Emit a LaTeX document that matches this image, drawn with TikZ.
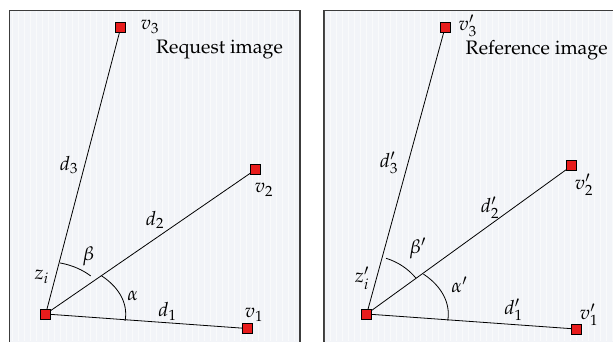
\documentclass[tikz,border=0pt]{standalone}
\usepackage[T1]{fontenc}
\usepackage{mathpazo}
\definecolor{paper}{RGB}{242,244,248}
\definecolor{vred}{RGB}{232,28,28}
\definecolor{framec}{RGB}{60,60,60}
\tikzset{
  vert/.style={draw=black, line width=0.7pt, fill=vred, minimum size=10pt, inner sep=0pt, outer sep=0pt},
  edge/.style={line width=0.8pt, black},
  lbl/.style={inner sep=0pt, font=\fontsize{19.5}{22}\selectfont},
  panel/.style={draw=framec, line width=1.6pt, fill=paper},
  papergrid/.style={white, line width=0.45pt, opacity=0.55},
}
\begin{document}
\begin{tikzpicture}[x=1pt, y=-1pt]
\useasboundingbox (0,0) rectangle (613,341);
\clip (0,0) rectangle (613,341);
\fill[white] (0,0) rectangle (613,341);
% panels
\draw[panel] (9.5,10.5) rectangle (300,350);
\draw[panel] (324,10.5) rectangle (625,350);
\begin{scope}
\clip (10.3,11.3) rectangle (299.2,341);
\draw[papergrid, step=6] (10,11) grid (300,341);
\end{scope}
\begin{scope}
\clip (324.8,11.3) rectangle (613,341);
\draw[papergrid, step=6] (324,11) grid (613,341);
\end{scope}

% ---------- left panel ----------
\node[vert] (z)  at (45.7,314) {};
\node[vert] (v1) at (247.3,328.5) {};
\node[vert] (v2) at (255.7,169.5) {};
\node[vert] (v3) at (120.7,27.7) {};
\draw[edge] (z) -- (v1);
\draw[edge] (z) -- (v2);
\draw[edge] (z) -- (v3);
\draw[edge] plot[domain=77.4:46.7, samples=40, smooth, variable=\t] ({45.7+65.6*cos(\t)},{314-52.3*sin(\t)});
\draw[edge] plot[domain=45.6:-7.4, samples=50, smooth, variable=\t] ({45.7+80*cos(\t)},{314-53.3*sin(\t)});

\node[lbl] (lv3) at (150,27) {$v_3$};
\node[lbl, anchor=base] (title1) at (219.5,53.3) {Request image};
\node[lbl] (ld3) at (69,165) {$d_3$};
\node[lbl] (lv2) at (264,190) {$v_2$};
\node[lbl] (ld2) at (155,220) {$d_2$};
\node[lbl] (lb) at (88.3,256.7) {$\beta$};
\node[lbl] (lz) at (41.7,276.7) {$z_i$};
\node[lbl] (la) at (132.7,296) {$\alpha$};
\node[lbl] (ld1) at (167.5,311.7) {$d_1$};
\node[lbl] (lv1) at (254,315) {$v_1$};

% ---------- right panel ----------
\node[vert] (zp)  at (366.7,314) {};
\node[vert] (v1p) at (576,329) {};
\node[vert] (v2p) at (571.7,165.7) {};
\node[vert] (v3p) at (445,27.7) {};
\draw[edge] (zp) -- (v1p);
\draw[edge] (zp) -- (v2p);
\draw[edge] (zp) -- (v3p);
\draw[edge] plot[domain=71.9:37.6, samples=40, smooth, variable=\t] ({366.7+62.2*cos(\t)},{314-58.6*sin(\t)});
\draw[edge] plot[domain=46:-6.9, samples=50, smooth, variable=\t] ({366.7+81.6*cos(\t)},{314-55.5*sin(\t)});

\node[lbl] (lv3p) at (467.7,25.5) {$v_3'$};
\node[lbl, anchor=base] (title2) at (536.7,54) {Reference image};
\node[lbl] (ld3p) at (389,163) {$d_3'$};
\node[lbl] (lv2p) at (584,185) {$v_2'$};
\node[lbl] (ld2p) at (490,208) {$d_2'$};
\node[lbl] (lbp) at (417.7,248.3) {$\beta'$};
\node[lbl] (lzp) at (362,278.3) {$z_i'$};
\node[lbl] (lap) at (459.3,285) {$\alpha'$};
\node[lbl] (ld1p) at (513.5,310) {$d_1'$};
\node[lbl] (lv1p) at (589,315) {$v_1'$};
\end{tikzpicture}
\end{document}
